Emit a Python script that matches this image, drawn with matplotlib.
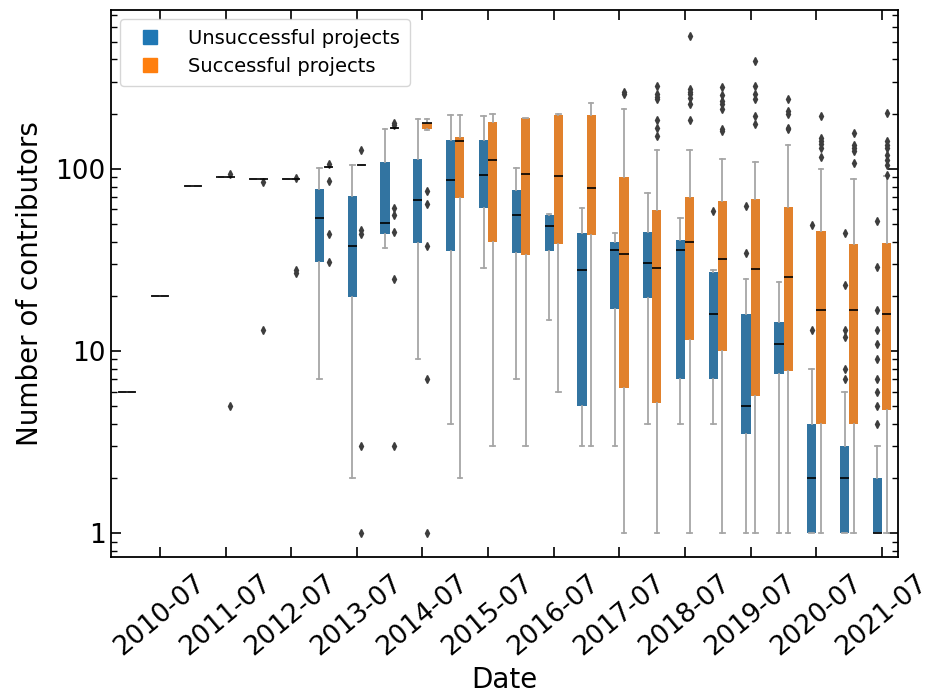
import matplotlib
matplotlib.use("Agg")
import matplotlib.pyplot as plt
from matplotlib.lines import Line2D
from matplotlib.ticker import LogLocator, FuncFormatter, NullFormatter

BLUE = "#3274a1"
ORANGE = "#e1812c"

# half-year buckets
categories = [f"{y}-{m}" for y in range(2010, 2022) for m in ("01", "07")]
tick_labels = categories[1::2]

# unsuccessful projects: whisker low, q1, median, q3, whisker high
uns_lo = [6, 20, 81, 91, 88, 88, 7.0, 2.0, 36.7, 9.0, 4.0, 28.8,
          7.0, 14.9, 3.0, 3.0, 4.0, 4.0, 4.0, 1.0, 1.0, 1.0, 1.0, 1.0]
uns_q1 = [6, 20, 81, 91, 88, 88, 30.8, 19.9, 43.9, 39.1, 35.3, 60.8,
          34.4, 35.3, 5.0, 17.0, 19.5, 7.0, 7.0, 3.5, 7.45, 1.0, 1.0, 1.0]
uns_med = [6, 20, 81, 91, 88, 88, 54.2, 37.9, 50.8, 68, 86.7, 92.7,
           56.2, 48.8, 27.9, 35.9, 30.5, 35.8, 15.9, 5.0, 11.0, 2.0, 2.0, 1.0]
uns_q3 = [6, 20, 81, 91, 88, 88, 77.6, 71.4, 109.7, 113.7, 144.5, 144.5,
          77, 56, 44.6, 39.8, 45.2, 40.9, 27.3, 16.0, 14.5, 4.0, 3.0, 2.0]
uns_hi = [6, 20, 81, 91, 88, 88, 102, 105, 166, 189, 198, 196,
          102, 57, 60.8, 44.8, 73.6, 53.8, 27.8, 24.9, 23.9, 8.0, 6.0, 3.0]
uns_fliers = [[], [], [], [], [], [], [], [], [], [], [], [],
              [], [], [], [], [], [], [58.7], [62.8, 34.8], [],
              [49, 13], [44.8, 23, 13, 12, 8, 7],
              [51.7, 28.9, 16.9, 13, 10.9, 9.0, 7.0, 6.0, 5.0, 4.0]]

# successful projects
suc_lo = [6, 20, 81, 91, 88, 88, 103, 105, 169, 163, 2.0, 3.0,
          3.0, 6.0, 3.0, 1.0, 1.0, 1.0, 1.0, 1.0, 1.0, 1.0, 1.0, 1.0]
suc_q1 = [6, 20, 81, 91, 88, 88, 103, 105, 169, 165, 69.8, 40,
          33.6, 38.6, 43.7, 6.24, 5.2, 11.5, 10, 5.7, 7.75, 4.0, 4.0, 4.76]
suc_med = [6, 20, 81, 91, 88, 88, 103, 105, 169, 178, 142.6, 112,
           93.5, 91.9, 78.7, 34.1, 28.8, 40, 31.9, 28.4, 25.4, 16.9, 16.9, 15.9]
suc_q3 = [6, 20, 81, 91, 88, 88, 103, 105, 169, 180, 150, 182,
          190, 199, 199, 90.7, 59.8, 70.5, 66.8, 68.3, 61.7, 45.8, 38.9, 39.4]
suc_hi = [6, 20, 81, 91, 88, 88, 103, 105, 169, 189, 198, 201,
          190, 201, 230, 214, 128, 128, 113, 110, 136, 100, 88.7, 91.9]
suc_fliers = [[], [], [], [94, 5], [85, 13], [89, 28, 27],
              [106, 86, 44, 31], [127, 46, 44, 3, 1],
              [174, 178, 61, 56, 45, 25, 3], [75.6, 63.9, 37.7, 7.0, 1.0],
              [], [], [], [], [], [258, 266],
              [286, 257, 250, 242, 185, 169, 152],
              [541, 276, 266, 257, 246, 228, 187],
              [281, 255, 238, 227, 214, 165, 162],
              [393, 286, 260, 243, 195, 177],
              [244, 209, 201, 169, 165],
              [195, 148, 143, 137, 131, 116],
              [157, 136, 131, 126, 108],
              [204, 142, 136, 130, 120, 112, 105, 93]]


def make_stats(lo, q1, med, q3, hi, fliers):
    return [dict(whislo=a, q1=b, med=c, q3=d, whishi=e, fliers=f)
            for a, b, c, d, e, f in zip(lo, q1, med, q3, hi, fliers)]


def draw(ax, stats, color, offset, width):
    pos = [i + offset for i in range(len(stats))]
    ax.bxp(stats, positions=pos, widths=width, capwidths=width * 0.5,
           patch_artist=True, manage_ticks=False,
           boxprops=dict(facecolor=color, edgecolor=color, linewidth=0),
           whiskerprops=dict(color="#a6a6a6", linewidth=1.3),
           capprops=dict(color="#a6a6a6", linewidth=1.3),
           medianprops=dict(color="black", linewidth=1.2),
           flierprops=dict(marker="d", markersize=4, markerfacecolor="#3d3d3d",
                           markeredgecolor="#3d3d3d", linestyle="none"))


fig = plt.figure(figsize=(9.3, 6.98), dpi=100)
ax = fig.add_axes([0.119, 0.202, 0.847, 0.784])

w = 0.28
draw(ax, make_stats(uns_lo, uns_q1, uns_med, uns_q3, uns_hi, uns_fliers), BLUE, -w / 2, w)
draw(ax, make_stats(suc_lo, suc_q1, suc_med, suc_q3, suc_hi, suc_fliers), ORANGE, w / 2, w)

ax.set_yscale("log")
ax.set_ylim(0.74, 750)
ax.set_xlim(-0.5, len(categories) - 0.5)
ax.yaxis.set_major_locator(LogLocator(base=10))
ax.yaxis.set_major_formatter(FuncFormatter(lambda v, p: f"{v:g}"))
ax.yaxis.set_minor_formatter(NullFormatter())

ax.set_xticks(range(1, len(categories), 2))
ax.set_xticklabels(tick_labels, rotation=40)
ax.tick_params(axis="both", which="both", direction="in", top=True, right=True,
               labelsize=19)
ax.tick_params(axis="both", which="major", length=7, width=1.2)
ax.tick_params(axis="x", which="major", pad=9)
ax.tick_params(axis="y", which="minor", length=4, width=1)
for s in ax.spines.values():
    s.set_linewidth(1.3)

ax.set_xlabel("Date", fontsize=20, labelpad=4)
ax.set_ylabel("Number of contributors", fontsize=20, labelpad=8)

handles = [Line2D([], [], marker="s", linestyle="none", markersize=10,
                  color="#1f77b4", label="Unsuccessful projects"),
           Line2D([], [], marker="s", linestyle="none", markersize=10,
                  color="#ff7f0e", label="Successful projects")]
ax.legend(handles=handles, loc="upper left", fontsize=14, handletextpad=1.0,
          borderpad=0.5, labelspacing=0.45)

fig.savefig("out.png", dpi=100)
